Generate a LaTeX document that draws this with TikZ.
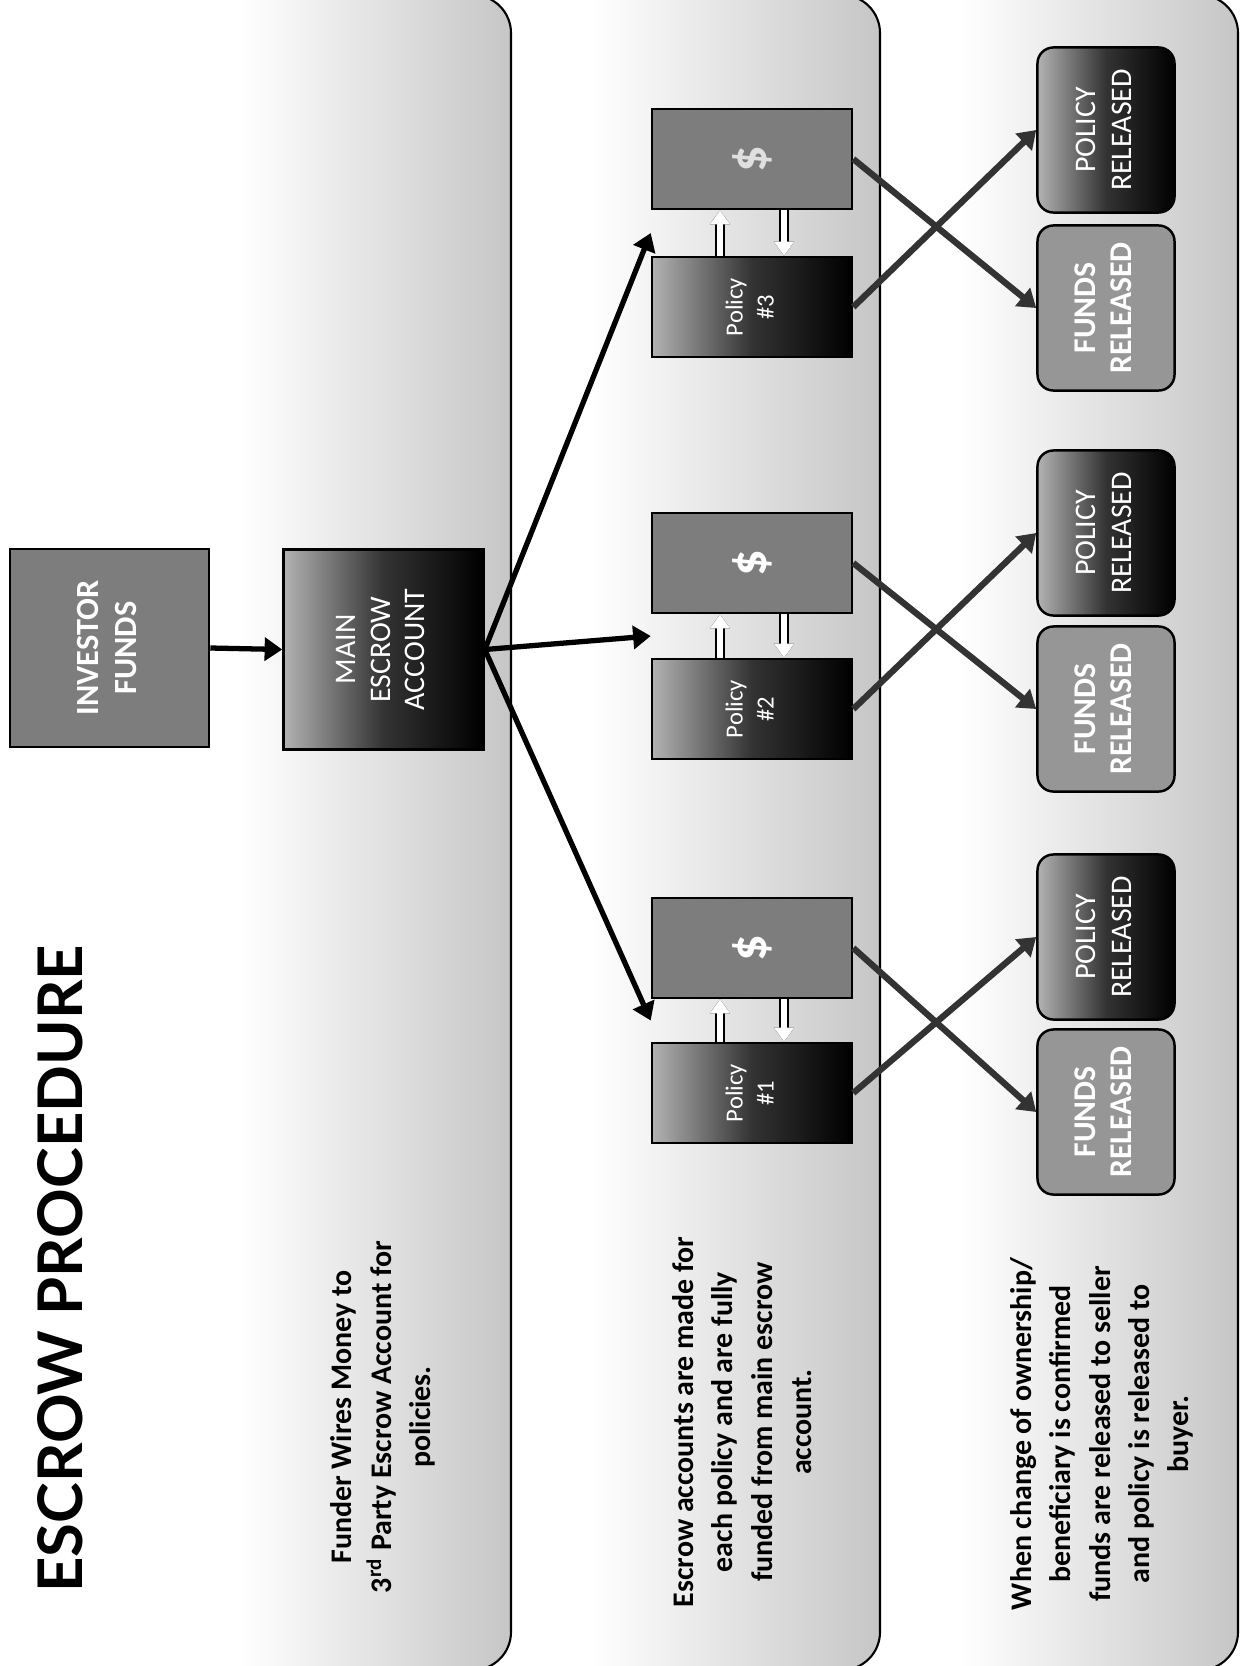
\documentclass[tikz,border=0pt]{standalone}
\usepackage{fontspec}
\setmainfont{Carlito}
\newfontfamily\titlefont{Lato}
\usetikzlibrary{arrows.meta,calc}
\definecolor{boxgray}{RGB}{125,125,125}
\definecolor{lightbox}{RGB}{150,150,150}
\definecolor{bandgray}{RGB}{198,198,198}
\newcommand{\vlabel}[1]{\rotatebox{90}{\begin{tabular}{@{}c@{}}#1\end{tabular}}}

\begin{document}
\begin{tikzpicture}[x=0.01cm,y=-0.01cm,
    plainbox/.style={draw=black,line width=0.7pt,fill=boxgray,text=white,inner sep=0pt},
    fadebox/.style={draw=black,line width=0.7pt,left color=gray!60,right color=black,middle color=black!80,text=white,inner sep=0pt},
    sqbox/.style={minimum width=2cm,minimum height=2cm},
    acctbox/.style={minimum width=2cm,minimum height=1cm},
    relbox/.style={rounded corners=0.16cm,minimum width=1.37cm,minimum height=1.65cm},
    feed/.style={line width=1.5pt,-{Triangle[length=5pt,width=6.5pt]}},
    crossar/.style={line width=1.8pt,black!80,-{Triangle[length=5pt,width=6.5pt]}},
    swapar/.style={line width=1.8pt,white,-{Triangle[length=4pt,width=5.5pt]},
      preaction={draw=black,line width=2.8pt}},
    desc/.style={font=\fontsize{8.5}{11.2}\selectfont\bfseries,align=center,rotate=90}]
  \useasboundingbox (0,0) rectangle (1243,1666);

  % column bands, fading in from the left
  \foreach \xa/\xb in {240/511, 590/880, 960/1238} {
    \begin{scope}
      \clip[rounded corners=0.38cm] (\xa-60,-5) rectangle (\xb,1670);
      \shade[left color=white,right color=bandgray] (\xa,0) rectangle (\xb,1666);
    \end{scope}
    \begin{scope}
      \clip (\xa,0) rectangle (1243,1666);
      \draw[line width=0.6pt,rounded corners=0.38cm] (\xa-60,-5) rectangle (\xb,1670);
    \end{scope}
  }

  % title
  \node[rotate=90,font=\titlefont\bfseries\fontsize{17.5}{18}\selectfont] (title) at (60,1269) {ESCROW PROCEDURE};

  % first row
  \node[plainbox,sqbox,minimum height=1.98cm,minimum width=1.99cm] (inv) at (109.5,648)
    {\fontsize{9.2}{10.8}\selectfont\bfseries\vlabel{INVESTOR\\FUNDS}};
  \node[fadebox,sqbox] (main) at (383.5,649.5)
    {\fontsize{8.5}{9.8}\selectfont\vlabel{MAIN\\ESCROW\\ACCOUNT}};

  % policy escrow pairs
  \foreach \i/\yd/\yp/\dc in {1/948/1093/white, 2/563/709/white, 3/159/307/gray!25} {
    \node[plainbox,acctbox] (dollar\i) at (752,\yd)
      {\fontsize{15}{15}\selectfont\bfseries\color{\dc}\rotatebox{90}{\$}};
    \node[fadebox,acctbox] (pol\i) at (752,\yp)
      {\fontsize{7}{8.8}\selectfont\vlabel{Policy\\\#\i}};
  }

  % released boxes
  \foreach \i/\yp/\yf in {1/937/1112, 2/533/709, 3/130/308} {
    \node[fadebox,relbox] (prel\i) at (1106,\yp)
      {\fontsize{8.5}{10.4}\selectfont\vlabel{POLICY\\RELEASED}};
    \node[plainbox,relbox,fill=lightbox] (frel\i) at (1106,\yf)
      {\fontsize{9}{10.4}\selectfont\bfseries\vlabel{FUNDS\\RELEASED}};
  }

  % connectors
  \draw[feed] (inv.east) -- (main.west);
  \foreach \i in {1,2,3} {
    \coordinate (gap\i) at ($(dollar\i.south west)!0.5!(pol\i.north west)$);
    \draw[feed] (main.east) -- (gap\i);
    \draw[swapar] ([xshift=-0.32cm]pol\i.north) -- ([xshift=-0.32cm]dollar\i.south);
    \draw[swapar] ([xshift=0.32cm]dollar\i.south) -- ([xshift=0.32cm]pol\i.north);
    \draw[crossar] (dollar\i.east) -- (frel\i.west);
    \draw[crossar] (pol\i.east) -- (prel\i.west);
  }

  % descriptions
  \node[desc] (d1) at (383,1417) {Funder Wires Money to\\3\textsuperscript{rd} Party Escrow Account for\\policies.};
  \node[desc] (d2) at (742,1422) {Escrow accounts are made for\\each policy and are fully\\funded from main escrow\\account.};
  \node[desc] (d3) at (1102,1434) {When change of ownership/\\beneficiary is confirmed\\funds are released to seller\\and policy is released to\\buyer.};
\end{tikzpicture}
\end{document}
